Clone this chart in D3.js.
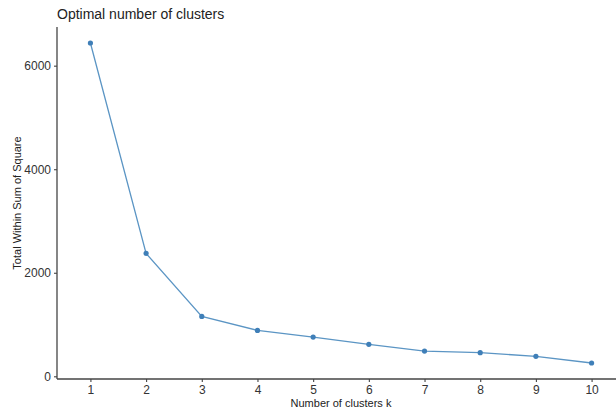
<!DOCTYPE html>
<html><head><meta charset="utf-8">
<script src="https://cdn.jsdelivr.net/npm/d3@7"></script>
<style>body{margin:0;background:#fff}svg{display:block}text{font-family:"Liberation Sans",Arial,sans-serif}</style>
</head><body>
<svg id="c" width="616" height="411"></svg>
<script>
const ks = [1,2,3,4,5,6,7,8,9,10];
const wss = [6438,2373,1157,887,758,617,488,457,386,257];
const yTicks = [0,2000,4000,6000];
const title = "Optimal number of clusters";
const xTitle = "Number of clusters k";
const yTitle = "Total Within Sum of Square";

const svg = d3.select("#c");
const L = 57, R = 625, T = 27, B = 379;
const x = d3.scaleLinear().domain([0.4, 10.6]).range([L, R]);
const ext = d3.max(wss) - d3.min(wss);
const y = d3.scaleLinear().domain([d3.min(wss) - 0.05*ext, d3.max(wss) + 0.05*ext]).range([B, T]);

const gx = svg.append("g").attr("transform", `translate(0,${B})`)
  .call(d3.axisBottom(x).tickValues(ks).tickFormat(d3.format("d")).tickSize(3).tickPadding(3));
const gy = svg.append("g").attr("transform", `translate(${L},0)`)
  .call(d3.axisLeft(y).tickValues(yTicks).tickFormat(d3.format("d")).tickSize(3).tickPadding(3));
[gx, gy].forEach(g => {
  g.select(".domain").attr("stroke", "#444").attr("stroke-width", 1.3);
  g.selectAll(".tick line").attr("stroke", "#444").attr("stroke-width", 1.1);
  g.selectAll(".tick text").attr("fill", "#333").style("font-size", "12px");
});
gy.select(".domain").attr("d", `M-0,${B}V${T}`);
gx.select(".domain").attr("d", `M${L},0H${R}`);

svg.append("path").datum(ks.map((k,i)=>[k,wss[i]]))
  .attr("fill","none").attr("stroke","#5b95c4").attr("stroke-width",1.3)
  .attr("d", d3.line().x(d=>x(d[0])).y(d=>y(d[1])));
svg.selectAll("circle.pt").data(ks.map((k,i)=>[k,wss[i]])).enter().append("circle")
  .attr("cx", d=>x(d[0])).attr("cy", d=>y(d[1])).attr("r", 2.6).attr("fill", "#3f7fb8");

svg.append("text").attr("x", 57).attr("y", 19).attr("fill","#222").style("font-size","14px").text(title);
svg.append("text").attr("x", (L+R)/2 - 0).attr("y", 407).attr("text-anchor","middle").attr("fill","#222").style("font-size","11px").text(xTitle);
svg.append("text").attr("transform", `translate(21,${(T+B)/2}) rotate(-90)`).attr("text-anchor","middle").attr("fill","#222").style("font-size","11px").text(yTitle);
</script>
</body></html>
